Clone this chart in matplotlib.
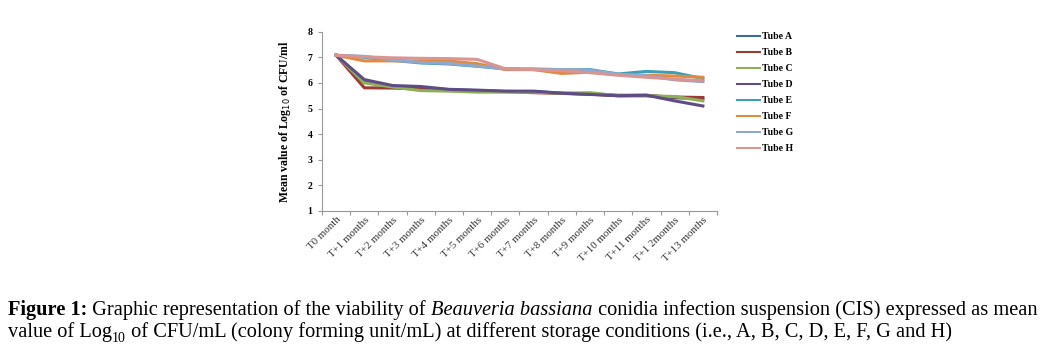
import matplotlib
matplotlib.use("Agg")
import matplotlib.pyplot as plt

plt.rcParams['font.family'] = ['Liberation Serif', 'DejaVu Serif']

months = ["T0 month", "T+1 months", "T+2 months", "T+3 months", "T+4 months",
          "T+5 months", "T+6 months", "T+7 months", "T+8 months", "T+9 months",
          "T+10 months", "T+11 months", "T+1 2months", "T+13 months"]

tube_a = [7.08, 6.05, 5.86, 5.80, 5.74, 5.70, 5.67, 5.66, 5.60, 5.57, 5.52, 5.52, 5.42, 5.38]
tube_b = [7.08, 5.81, 5.80, 5.76, 5.72, 5.68, 5.66, 5.62, 5.59, 5.56, 5.50, 5.50, 5.45, 5.43]
tube_c = [7.08, 6.00, 5.84, 5.70, 5.68, 5.64, 5.64, 5.64, 5.60, 5.62, 5.50, 5.50, 5.47, 5.30]
tube_d = [7.08, 6.13, 5.90, 5.86, 5.75, 5.72, 5.68, 5.68, 5.60, 5.55, 5.50, 5.52, 5.30, 5.10]
tube_e = [7.08, 7.00, 6.88, 6.78, 6.74, 6.65, 6.55, 6.53, 6.50, 6.52, 6.35, 6.45, 6.40, 6.17]
tube_f = [7.08, 6.86, 6.86, 6.86, 6.86, 6.75, 6.52, 6.52, 6.37, 6.42, 6.32, 6.30, 6.27, 6.22]
tube_g = [7.08, 7.04, 6.90, 6.80, 6.76, 6.66, 6.55, 6.55, 6.52, 6.50, 6.34, 6.28, 6.12, 6.05]
tube_h = [7.08, 7.02, 6.98, 6.96, 6.95, 6.92, 6.55, 6.52, 6.48, 6.40, 6.30, 6.22, 6.15, 6.08]

series = [("Tube A", tube_a, "#3f6b9c"), ("Tube B", tube_b, "#9b3a37"),
          ("Tube C", tube_c, "#8fae5a"), ("Tube D", tube_d, "#5f4c85"),
          ("Tube E", tube_e, "#3d9fb5"), ("Tube F", tube_f, "#e08a42"),
          ("Tube G", tube_g, "#8ea8cf"), ("Tube H", tube_h, "#d99592")]

fig = plt.figure(figsize=(10.53, 3.48), dpi=100)
ax = fig.add_axes([0.3058, 0.3937, 0.3751, 0.5152])

x = range(len(months))
for name, vals, col in series:
    ax.plot(x, vals, color=col, lw=2.2, label=name, solid_joinstyle='round')

ax.set_xlim(-0.5, len(months) - 0.5)
ax.set_ylim(1, 8)
ax.set_yticks(range(1, 9))
ax.set_yticklabels([str(v) for v in range(1, 9)], fontsize=7, fontweight='bold')
ax.set_xticks([i + 0.5 for i in range(len(months) - 1)] + [-0.5, len(months) - 0.5])
ax.set_xticklabels([""] * (len(months) + 1))
ax.set_xticks(list(x), minor=True)
ax.set_xticklabels(months, minor=True, rotation=45, ha='right', rotation_mode='anchor',
                   fontsize=7.8, color='#333333')
ax.tick_params(axis='x', which='minor', length=0, pad=3)
ax.tick_params(axis='x', which='major', length=3, color='#999999', direction='out')
ax.tick_params(axis='y', length=3, color='#999999', pad=4)
for side in ['top', 'right']:
    ax.spines[side].set_visible(False)
for side in ['left', 'bottom']:
    ax.spines[side].set_color('#999999')
    ax.spines[side].set_linewidth(0.8)

ax.set_ylabel("Mean value of Log$_{10}$ of CFU/ml", fontsize=8.5, fontweight='bold', labelpad=10)

leg = ax.legend(loc='upper left', bbox_to_anchor=(1.04, 1.02), frameon=False, fontsize=7,
                handlelength=2.4, handletextpad=0.2, labelspacing=0.72, borderaxespad=0)
for t in leg.get_texts():
    t.set_fontweight('bold')
for h in leg.get_lines():
    h.set_linewidth(1.5)

plt.rcParams['mathtext.fontset'] = 'custom'
plt.rcParams['mathtext.rm'] = 'Liberation Serif'

# caption written in pieces so that bold / italic parts line up
def caption_line(parts, x0, y0):
    fig.canvas.draw()
    r = fig.canvas.get_renderer()
    xpos = x0
    for txt, kw in parts:
        dy = kw.pop('dy', 0)
        t = fig.text(xpos, y0 + dy, txt, fontsize=kw.pop('size', 14.7),
                     transform=None, va='baseline', ha='left', **kw)
        bb = t.get_window_extent(renderer=r)
        xpos = bb.x1

caption_line([("Figure 1:", dict(fontweight='bold')),
              (" Graphic representation of the viability of ", {}),
              ("Beauveria bassiana", dict(style='italic')),
              (" conidia infection suspension (CIS) expressed as mean", {})],
             8, 348 - 315)
caption_line([("value of Log", {}),
              ("10", dict(size=10, dy=-5)),
              (" of CFU/mL (colony forming unit/mL) at different storage conditions (i.e., A, B, C, D, E, F, G and H)", {})],
             8, 348 - 337)

fig.savefig("out.png", dpi=100)
